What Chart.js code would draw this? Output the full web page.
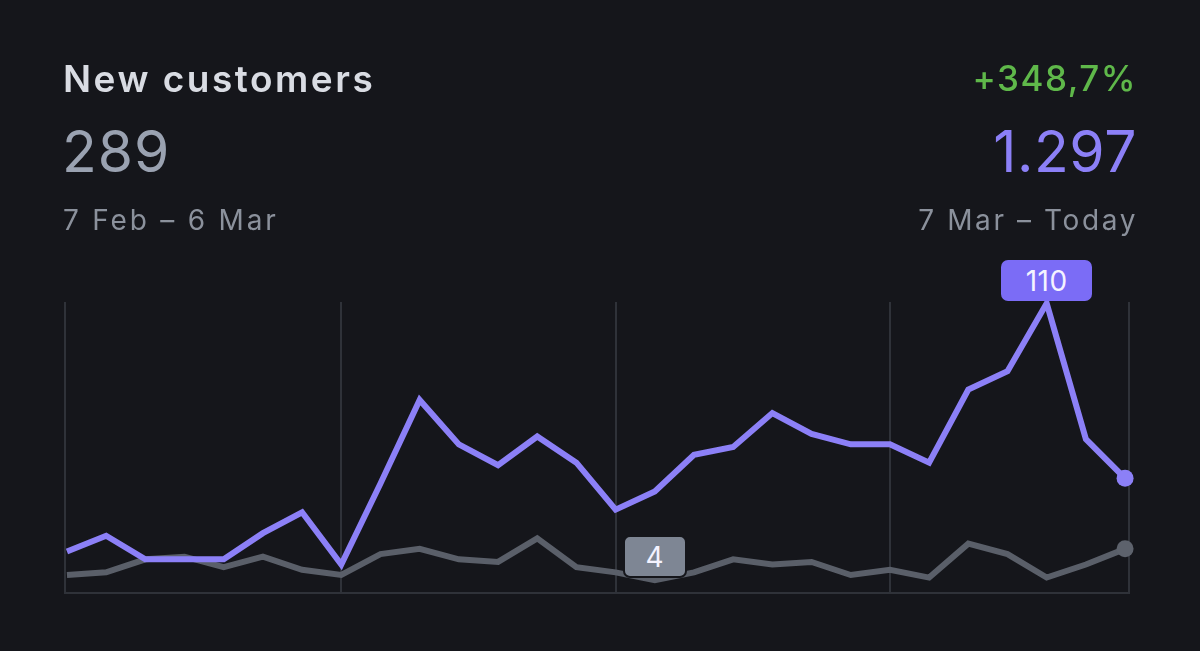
<!DOCTYPE html>
<html>
<head>
<meta charset="utf-8">
<script src="https://cdn.jsdelivr.net/npm/chart.js@4/dist/chart.umd.min.js"></script>
<style>
  html, body { margin: 0; padding: 0; background: #15161b; width: 1200px; height: 651px; overflow: hidden; font-family: Inter, "Noto Sans", sans-serif; }
  #wrap { position: relative; width: 1200px; height: 651px; }
  #chart { position: absolute; left: 0; top: 0; }
  .txt { position: absolute; line-height: 1; white-space: nowrap; }
  .badge { position: absolute; box-sizing: border-box; border-radius: 7px; color: #f4f3ff; font-size: 28px; letter-spacing: 0.5px; line-height: 1; display: flex; align-items: center; justify-content: center; }
</style>
</head>
<body>
<div id="wrap">
  <canvas id="chart" width="1200" height="651"></canvas>
  <div class="txt" id="title" style="left:63px; top:60px; font-size:37px; font-weight:600; letter-spacing:2.5px; color:#d9dce3;">New customers</div>
  <div class="txt" id="prevTotal" style="left:62px; top:123px; font-size:57px; letter-spacing:1px; color:#9aa2b1;">289</div>
  <div class="txt" id="prevRange" style="left:63px; top:206px; font-size:28px; letter-spacing:2.8px; color:#8b919c;">7 Feb – 6 Mar</div>
  <div class="txt" id="change" style="right:63px; top:61px; font-size:35px; font-weight:500; letter-spacing:1.5px; color:#5fb84a;">+348,7%</div>
  <div class="txt" id="curTotal" style="right:63px; top:123px; font-size:57px; letter-spacing:0.6px; color:#8c80f7;">1.297</div>
  <div class="txt" id="curRange" style="right:62px; top:206px; font-size:28px; letter-spacing:2.6px; color:#8b919c;">7 Mar – Today</div>
  <div class="badge" id="maxBadge" style="background:#7b6cf6; width:91px; height:41px;"></div>
  <div class="badge" id="minBadge" style="background:#7e8694; width:64px; height:43px; border:2px solid #15161b;"></div>
</div>
<script>
// daily new customers, 28 days each period
const days = Array.from({ length: 28 }, (_, i) => i);
const currentPeriod = [15, 21, 12, 12, 12, 22, 30, 10, 41, 73, 56, 48, 59, 49, 31, 38, 52, 55, 68, 60, 56, 56, 49, 77, 84, 110, 58, 43];
const previousPeriod = [6, 7, 12, 13, 9, 13, 8, 6, 14, 16, 12, 11, 20, 9, 7, 4, 7, 12, 10, 11, 6, 8, 5, 18, 14, 5, 10, 16];
const weekTicks = [7, 14, 21];

const lastIndex = days.length - 1;
const toPoints = arr => arr.map((v, i) => ({ x: days[i], y: v }));

function placeBadge(chart, id, values, pick) {
    const value = pick(...values);
    const idx = values.indexOf(value);
    const el = document.getElementById(id);
    el.textContent = value;
    const x = chart.scales.x.getPixelForValue(days[idx]);
    const y = chart.scales.y.getPixelForValue(value);
    el.style.left = (x - el.offsetWidth / 2) + 'px';
    el.style.top = (y - 2 - el.offsetHeight) + 'px';
}

const badgePlugin = {
    id: 'badges',
    afterRender(chart) {
        placeBadge(chart, 'maxBadge', currentPeriod, Math.max);
        placeBadge(chart, 'minBadge', previousPeriod, Math.min);
    }
};

const ctx = document.getElementById('chart');
new Chart(ctx, {
    type: 'line',
    data: {
        datasets: [
            {
                label: '7 Mar – Today',
                data: toPoints(currentPeriod),
                borderColor: '#8c80f7',
                backgroundColor: '#8c80f7',
                borderWidth: 6,
                tension: 0,
                pointRadius: days.map(i => i === lastIndex ? 8.5 : 0),
                pointBorderWidth: 0,
                clip: false
            },
            {
                label: '7 Feb – 6 Mar',
                data: toPoints(previousPeriod),
                borderColor: '#5a5f69',
                backgroundColor: '#5d626c',
                borderWidth: 6,
                tension: 0,
                pointRadius: days.map(i => i === lastIndex ? 8.5 : 0),
                pointBorderWidth: 0,
                clip: false
            }
        ]
    },
    options: {
        responsive: false,
        animation: false,
        events: [],
        layout: { padding: { left: 65, right: 71, top: 302, bottom: 58 } },
        scales: {
            x: {
                type: 'linear',
                min: -0.05,
                max: 27.1,
                afterBuildTicks: scale => {
                    scale.ticks = [scale.min, ...weekTicks, scale.max].map(v => ({ value: v }));
                },
                ticks: { display: false },
                grid: { color: '#2f3239', lineWidth: 2, drawTicks: false },
                border: { display: true, color: '#2f3239', width: 2 }
            },
            y: {
                display: false,
                min: -0.9,
                max: 110.5
            }
        },
        plugins: {
            legend: { display: false },
            tooltip: { enabled: false }
        }
    },
    plugins: [badgePlugin]
});
</script>
</body>
</html>
